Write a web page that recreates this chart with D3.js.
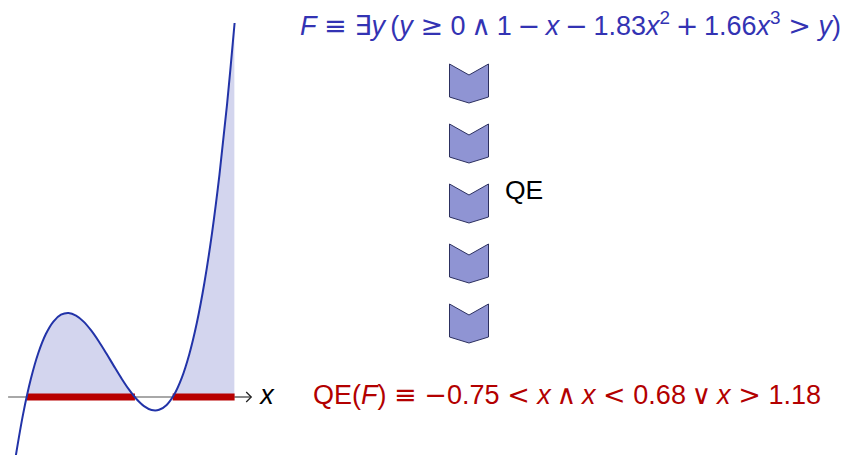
<!DOCTYPE html>
<html>
<head>
<meta charset="utf-8">
<script src="https://cdn.jsdelivr.net/npm/d3@7"></script>
<style>
  body { margin: 0; background: #fff; }
  svg { display: block; font-family: "Liberation Sans", Arial, sans-serif; }
</style>
</head>
<body>
<div id="chart"></div>
<script>
// sampled values of the plotted curve y = 1 - x - 1.83x^2 + 1.66x^3
var xs = [-0.9, -0.8, -0.7, -0.6, -0.5, -0.4, -0.3, -0.2, -0.1, 0.0,
          0.1, 0.2, 0.3, 0.4, 0.5, 0.6, 0.7, 0.8, 0.9, 1.0,
          1.1, 1.2, 1.3, 1.4, 1.5, 1.6, 1.7, 1.8, 1.9, 2.0];
var ys = [-0.792, -0.221, 0.234, 0.583, 0.835, 1.001, 1.091, 1.114, 1.080, 1.000,
          0.883, 0.740, 0.580, 0.413, 0.250, 0.100, -0.027, -0.121, -0.172, -0.170,
          -0.105, 0.033, 0.254, 0.568, 0.985, 1.515, 2.167, 2.952, 3.880, 4.960];
// solution set from QE
var intervals = [[-0.75, 0.68], [1.18, 2.0]];
var axisRange = [-1.0, 2.22];
var steps = [0, 1, 2, 3, 4];
var stepLabel = "QE";

var w = 844, h = 455;
var fs = 27;

var svg = d3.select("#chart").append("svg")
    .attr("width", w)
    .attr("height", h);

var points = xs.map(function(x, i) { return [x, ys[i]]; });

var xScale = d3.scaleLinear().domain([-0.9, 2.0]).range([15.65, 234.6]);
var yScale = d3.scaleLinear().domain([0, 4.96]).range([397, 23]);

var defs = svg.append("defs");
defs.append("clipPath").attr("id", "above")
    .append("rect")
    .attr("x", xScale(-0.9))
    .attr("y", 0)
    .attr("width", xScale(2.0) - xScale(-0.9))
    .attr("height", yScale(0));

// shaded region where the polynomial is positive
var area = d3.area()
    .x(function(d) { return xScale(d[0]); })
    .y0(yScale(0))
    .y1(function(d) { return yScale(d[1]); })
    .curve(d3.curveCatmullRom);

svg.append("path")
    .datum(points)
    .attr("clip-path", "url(#above)")
    .attr("d", area)
    .attr("fill", "#d3d5ee");

// x axis
svg.append("line")
    .attr("x1", xScale(axisRange[0])).attr("x2", xScale(2.0))
    .attr("y1", yScale(0)).attr("y2", yScale(0))
    .attr("stroke", "#a8a8a8")
    .attr("stroke-width", 2);

svg.append("line")
    .attr("x1", xScale(2.0)).attr("x2", xScale(axisRange[1]))
    .attr("y1", yScale(0)).attr("y2", yScale(0))
    .attr("stroke", "#444")
    .attr("stroke-width", 1.3);

var tipX = xScale(axisRange[1]), tipY = yScale(0);
svg.append("path")
    .attr("d", "M" + (tipX - 5) + "," + (tipY - 5) + "L" + tipX + "," + tipY + "L" + (tipX - 5) + "," + (tipY + 5))
    .attr("fill", "none")
    .attr("stroke", "#222")
    .attr("stroke-width", 1.3);

svg.append("text")
    .attr("x", tipX + 9)
    .attr("y", tipY + 7)
    .attr("font-size", fs)
    .attr("font-style", "italic")
    .attr("fill", "#000")
    .text("x");

// red solution intervals
svg.selectAll(".interval")
    .data(intervals)
    .enter().append("line")
    .attr("class", "interval")
    .attr("x1", function(d) { return xScale(d[0]); })
    .attr("x2", function(d) { return xScale(d[1]); })
    .attr("y1", yScale(0)).attr("y2", yScale(0))
    .attr("stroke", "#b80000")
    .attr("stroke-width", 7);

// the curve
var line = d3.line()
    .x(function(d) { return xScale(d[0]); })
    .y(function(d) { return yScale(d[1]); })
    .curve(d3.curveCatmullRom);

svg.append("path")
    .datum(points)
    .attr("d", line)
    .attr("fill", "none")
    .attr("stroke", "#2233a8")
    .attr("stroke-width", 2);

// chevrons
var stepY = d3.scaleLinear().domain([0, 4]).range([64, 304]);
var cx = 469, hw = 19.5;

svg.selectAll(".chev")
    .data(steps)
    .enter().append("path")
    .attr("class", "chev")
    .attr("d", function(d) {
        var t = stepY(d);
        return "M" + (cx - hw) + "," + t + "L" + cx + "," + (t + 11) + "L" + (cx + hw) + "," + t +
               "L" + (cx + hw) + "," + (t + 33) + "L" + cx + "," + (t + 39) + "L" + (cx - hw) + "," + (t + 33) + "Z";
    })
    .attr("fill", "#8f94d3")
    .attr("stroke", "#2c3060")
    .attr("stroke-width", 1);

svg.append("text")
    .attr("x", 505)
    .attr("y", stepY(2) + 15)
    .attr("font-size", fs - 0.5)
    .attr("fill", "#000")
    .text(stepLabel);

// formulas, built token by token with TeX-like spacing
var topTokens = [
    {t: "F", i: 1}, {t: "≡", s: "rel"}, {t: "∃", m: 1}, {t: "y", i: 1}, {t: "(", pre: 0.2},
    {t: "y", i: 1}, {t: "≥", s: "rel"}, {t: "0"}, {t: "∧", s: "bin"}, {t: "1"},
    {t: "−", s: "bin"}, {t: "x", i: 1}, {t: "−", s: "bin"}, {t: "1.83"}, {t: "x", i: 1},
    {t: "2", sup: 1}, {t: "+", s: "bin"}, {t: "1.66"}, {t: "x", i: 1}, {t: "3", sup: 1},
    {t: ">", s: "rel"}, {t: "y", i: 1}, {t: ")"}
];
var botTokens = [
    {t: "QE"}, {t: "("}, {t: "F", i: 1}, {t: ")"}, {t: "≡", s: "rel"}, {t: "−", m: 1}, {t: "0.75"},
    {t: "<", s: "rel"}, {t: "x", i: 1}, {t: "∧", s: "bin"}, {t: "x", i: 1}, {t: "<", s: "rel"},
    {t: "0.68"}, {t: "∨", s: "bin"}, {t: "x", i: 1}, {t: ">", s: "rel"}, {t: "1.18"}
];

function drawFormula(tokens, x, y, size, color) {
    var txt = svg.append("text")
        .attr("x", x).attr("y", y)
        .attr("font-size", size)
        .attr("fill", color);
    var gap = 0, raised = false;
    tokens.forEach(function(k) {
        var before = gap + (k.pre || 0);
        if (k.s == "rel") before += 0.28;
        if (k.s == "bin") before += 0.21;
        var ts = txt.append("tspan").text(k.t);
        var dy = 0;
        if (k.sup) { dy = -0.42 * size; raised = true; ts.attr("font-size", size * 0.7); }
        else if (raised) { dy = 0.42 * size; raised = false; }
        ts.attr("dx", (before * size).toFixed(1)).attr("dy", dy);
        if (k.i) ts.attr("font-style", "italic");
        if (k.s || k.m) ts.attr("font-family", "DejaVu Sans");
        gap = k.s == "rel" ? 0.28 : k.s == "bin" ? 0.21 : 0;
    });
    return txt;
}

drawFormula(topTokens, 300, 35, fs, "#3333b3");
drawFormula(botTokens, 313, 404, fs, "#b30000");
</script>
</body>
</html>
